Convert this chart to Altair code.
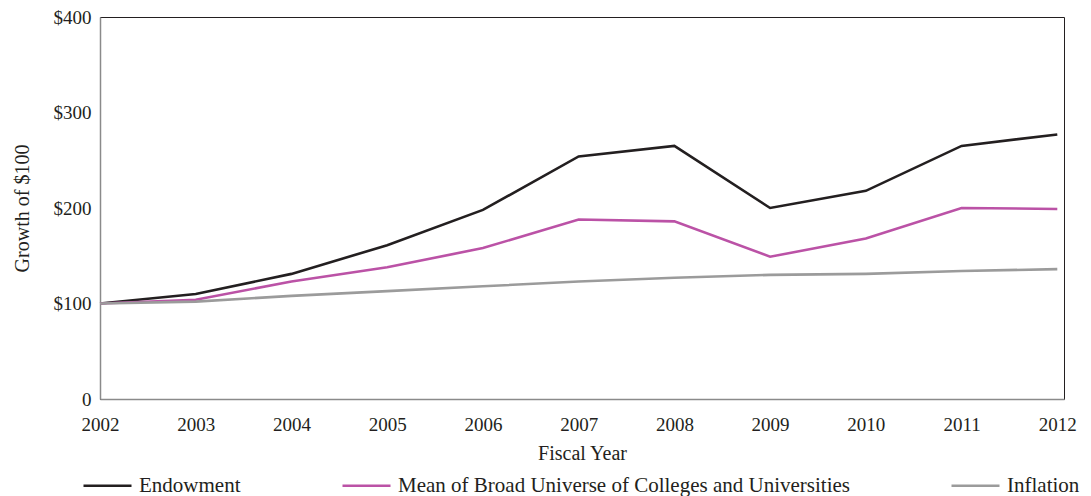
import altair as alt
import pandas as pd

years = [2002, 2003, 2004, 2005, 2006, 2007, 2008, 2009, 2010, 2011, 2012]
endowment = [100, 110, 131, 161, 198, 254, 265, 200, 218, 265, 277]
mean_broad = [100, 104, 123, 138, 158, 188, 186, 149, 168, 200, 199]
inflation = [100, 102, 108, 113, 118, 123, 127, 130, 131, 134, 136]

series_names = ["Endowment", "Mean of Broad Universe of Colleges and Universities", "Inflation"]
series_colors = ["#231f20", "#bb52a6", "#9b9b9b"]

rows = []
for name, vals in zip(series_names, [endowment, mean_broad, inflation]):
    for y, v in zip(years, vals):
        rows.append({"year": y, "value": v, "series": name})
df = pd.DataFrame(rows)

FONT = "Liberation Serif"
TXT = "#231f20"

chart = alt.Chart(df).mark_line(strokeWidth=2.6).encode(
    x=alt.X("year:Q",
            scale=alt.Scale(domain=[2002, 2012.07], nice=False, zero=False),
            axis=alt.Axis(title="Fiscal Year", values=years, format="d",
                          ticks=False, grid=False, labelPadding=16,
                          titlePadding=9, domainColor="#8a8a8a", domainWidth=1.5,
                          labelFlush=False)),
    y=alt.Y("value:Q",
            scale=alt.Scale(domain=[0, 400], nice=False),
            axis=alt.Axis(title="Growth of $100", values=[0, 100, 200, 300, 400],
                          labelExpr="datum.value == 0 ? '0' : '$' + datum.value",
                          ticks=False, grid=False, labelPadding=9, titlePadding=21,
                          domainColor="#8a8a8a", domainWidth=1.5)),
    color=alt.Color("series:N",
                    scale=alt.Scale(domain=series_names, range=series_colors),
                    sort=series_names,
                    legend=alt.Legend(title=None, orient="none", direction="horizontal",
                                      legendX=-18, legendY=443,
                                      symbolType="stroke", symbolSize=2304,
                                      symbolStrokeWidth=2.6, labelFontSize=21,
                                      columnPadding=96, labelOffset=6,
                                      labelLimit=700)),
).properties(
    width=964, height=382, padding={"left": 4, "top": 0, "right": 0, "bottom": 0}
).configure_view(
    stroke="#231f20", strokeWidth=1
).configure_axis(
    labelFont=FONT, titleFont=FONT, labelFontSize=19, titleFontSize=20,
    labelColor=TXT, titleColor=TXT, titleFontWeight="normal"
).configure_legend(
    labelFont=FONT, labelColor=TXT
)

chart.save("out.html", embed_options={"renderer": "svg", "actions": False})
